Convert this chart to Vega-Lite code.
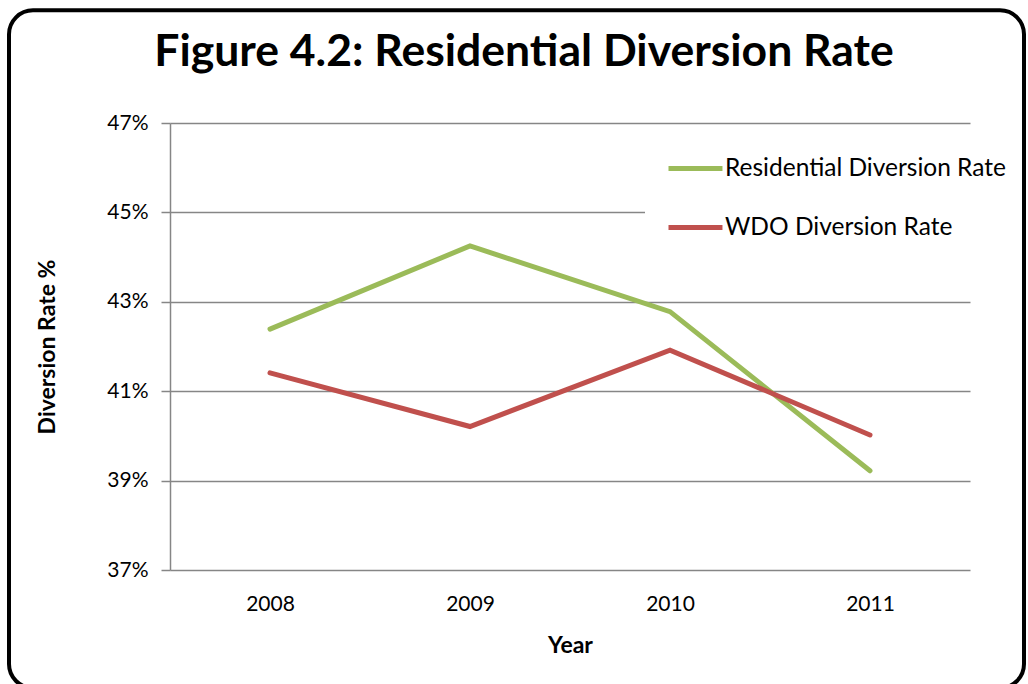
{
  "$schema": "https://vega.github.io/schema/vega-lite/v6.json",
  "width": 800,
  "height": 447,
  "autosize": {"type": "none"},
  "padding": {"left": 170, "top": 123, "right": 58, "bottom": 114},
  "background": "white",
  "title": {
    "text": "Figure 4.2: Residential Diversion Rate",
    "font": "Lato",
    "fontSize": 44.5,
    "fontWeight": "bold",
    "color": "black",
    "anchor": "middle",
    "baseline": "alphabetic",
    "dx": -46,
    "offset": -102
  },
  "config": {
    "view": {"stroke": null},
    "font": "Lato"
  },
  "datasets": {
    "rates": [
      {"year": 2008, "series": "Residential Diversion Rate", "rate": 0.4239},
      {"year": 2009, "series": "Residential Diversion Rate", "rate": 0.4425},
      {"year": 2010, "series": "Residential Diversion Rate", "rate": 0.4278},
      {"year": 2011, "series": "Residential Diversion Rate", "rate": 0.3922},
      {"year": 2008, "series": "WDO Diversion Rate", "rate": 0.4141},
      {"year": 2009, "series": "WDO Diversion Rate", "rate": 0.4021},
      {"year": 2010, "series": "WDO Diversion Rate", "rate": 0.4192},
      {"year": 2011, "series": "WDO Diversion Rate", "rate": 0.4002}
    ]
  },
  "layer": [
    {
      "data": {"values": [{"frame": "outline"}]},
      "mark": {"type": "rect", "fill": null, "stroke": "black", "strokeWidth": 4, "cornerRadius": 24},
      "encoding": {
        "x": {"datum": 2006.695, "type": "quantitative", "scale": {"domain": [2007.5, 2011.5]}},
        "x2": {"datum": 2011.77},
        "y": {"datum": 0.4952, "type": "quantitative", "scale": {"domain": [0.37, 0.47]}},
        "y2": {"datum": 0.3436}
      }
    },
    {
      "data": {"name": "rates"},
      "mark": {"type": "line", "strokeWidth": 5, "strokeCap": "round", "strokeJoin": "miter"},
      "encoding": {
        "x": {
          "field": "year",
          "type": "quantitative",
          "scale": {"domain": [2007.5, 2011.5], "zero": false, "nice": false},
          "axis": {
            "values": [2008, 2009, 2010, 2011],
            "format": "d",
            "ticks": false,
            "grid": false,
            "domain": false,
            "labelFont": "Lato",
            "labelFontSize": 21,
            "labelColor": "black",
            "labelPadding": 23,
            "title": "Year",
            "titleFont": "Lato",
            "titleFontSize": 23,
            "titleFontWeight": "bold",
            "titleColor": "black",
            "titlePadding": 20
          }
        },
        "y": {
          "field": "rate",
          "type": "quantitative",
          "scale": {"domain": [0.37, 0.47], "zero": false, "nice": false},
          "axis": {
            "values": [0.37, 0.39, 0.41, 0.43, 0.45, 0.47],
            "format": ".0%",
            "grid": true,
            "gridColor": "#868686",
            "gridWidth": 1.5,
            "domainColor": "#868686",
            "domainWidth": 1.5,
            "tickColor": "#868686",
            "tickWidth": 1.5,
            "tickSize": 9,
            "labelFont": "Lato",
            "labelFontSize": 21,
            "labelColor": "black",
            "labelPadding": 13,
            "title": "Diversion Rate %",
            "titleFont": "Lato",
            "titleFontSize": 23,
            "titleFontWeight": "bold",
            "titleColor": "black",
            "titlePadding": 47
          }
        },
        "color": {
          "field": "series",
          "type": "nominal",
          "scale": {
            "domain": ["Residential Diversion Rate", "WDO Diversion Rate"],
            "range": ["#9BBB59", "#C0504D"]
          },
          "legend": {
            "title": null,
            "orient": "none",
            "legendX": 475,
            "legendY": 22,
            "fillColor": "white",
            "padding": 10,
            "symbolType": "M0,0H5",
            "symbolSize": 466,
            "symbolStrokeWidth": 5,
            "labelFont": "Lato",
            "labelFontSize": 24.5,
            "labelColor": "black",
            "labelOffset": 43,
            "rowPadding": 34,
            "labelLimit": 400
          }
        }
      }
    }
  ]
}
